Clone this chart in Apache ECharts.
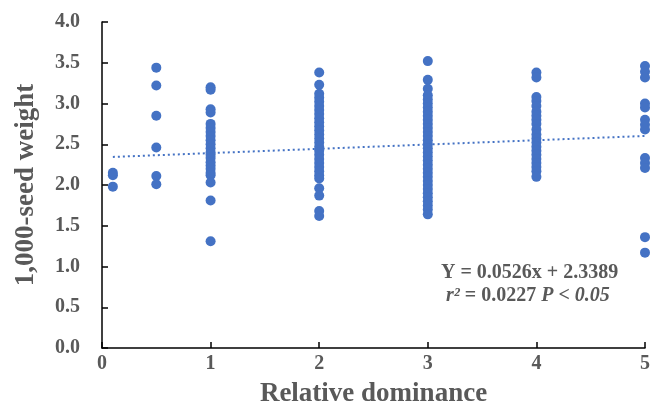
<!DOCTYPE html>
<html>
<head>
<meta charset="utf-8">
<script src="https://cdn.jsdelivr.net/npm/echarts@6/dist/echarts.min.js"></script>
<style>html,body{margin:0;padding:0;background:#fff;}#c{width:650px;height:405px;}</style>
</head>
<body>
<div id="c"></div>
<script>
// Relative dominance groups (x) and 1,000-seed weight values (y)
var xGroups = [0.1, 0.5, 1, 2, 3, 4, 5];
var y01 = [2.15, 2.12, 1.98];
var y05 = [3.44, 3.22, 2.85, 2.46, 2.11, 2.01];
var y1 = [3.2, 3.17, 2.93, 2.89, 2.75, 2.7, 2.65, 2.6, 2.55, 2.5, 2.45, 2.4, 2.37, 2.33, 2.28, 2.24, 2.2, 2.15, 2.12, 2.03, 1.81, 1.31];
var y2 = [3.38, 3.23, 3.12, 3.07, 3.02, 2.97, 2.92, 2.87, 2.82, 2.77, 2.72, 2.67, 2.62, 2.57, 2.52, 2.47, 2.42, 2.37, 2.32, 2.27, 2.22, 2.17, 2.12, 2.08, 1.96, 1.87, 1.68, 1.62];
var y3 = [3.52, 3.29, 3.18, 3.1, 3.05, 3.0, 2.95, 2.9, 2.85, 2.8, 2.75, 2.7, 2.65, 2.6, 2.55, 2.5, 2.45, 2.4, 2.35, 2.3, 2.25, 2.2, 2.15, 2.1, 2.05, 2.0, 1.95, 1.9, 1.85, 1.8, 1.75, 1.7, 1.64];
var y4 = [3.38, 3.32, 3.08, 3.03, 2.97, 2.9, 2.85, 2.8, 2.75, 2.68, 2.62, 2.57, 2.52, 2.47, 2.42, 2.37, 2.32, 2.27, 2.22, 2.17, 2.1];
var y5 = [3.46, 3.39, 3.32, 3.0, 2.95, 2.8, 2.74, 2.68, 2.33, 2.27, 2.21, 1.36, 1.17];
var yByGroup = [y01, y05, y1, y2, y3, y4, y5];
// Regression: Y = 0.0526x + 2.3389
var slope = 0.0526, intercept = 2.3389;
var trendX = [0.1, 5];

var points = [];
xGroups.forEach(function (x, i) {
  yByGroup[i].forEach(function (y) { points.push([x, y]); });
});
var trend = trendX.map(function (x) { return [x, slope * x + intercept]; });

var gray = '#595959';
var serif = '"Liberation Serif", "Times New Roman", serif';
var chart = echarts.init(document.getElementById('c'));
chart.setOption({
  animation: false,
  grid: { left: 102, right: 5, top: 22, bottom: 57, outerBoundsMode: 'none', containLabel: false },
  xAxis: {
    type: 'value', min: 0, max: 5, interval: 1,
    name: 'Relative dominance', nameLocation: 'middle', nameGap: 33,
    nameTextStyle: { fontFamily: serif, fontWeight: 'bold', fontSize: 27, color: gray },
    axisLine: { lineStyle: { color: '#000', width: 1.5 } },
    axisTick: { inside: true, length: 6, lineStyle: { color: '#000', width: 1.5 } },
    axisLabel: { margin: 6, fontFamily: serif, fontWeight: 'bold', fontSize: 20, color: gray },
    splitLine: { show: false }
  },
  yAxis: {
    type: 'value', min: 0, max: 4, interval: 0.5,
    name: '1,000-seed weight', nameLocation: 'middle', nameGap: 62,
    nameTextStyle: { fontFamily: serif, fontWeight: 'bold', fontSize: 27, color: gray },
    axisLine: { show: true, lineStyle: { color: '#000', width: 1.5 } },
    axisTick: { show: true, inside: true, length: 6, lineStyle: { color: '#000', width: 1.5 } },
    axisLabel: { margin: 22, fontFamily: serif, fontWeight: 'bold', fontSize: 20, color: gray,
      formatter: function (v) { return v.toFixed(1); } },
    splitLine: { show: false }
  },
  series: [
    { type: 'scatter', data: points, symbolSize: 10, itemStyle: { color: '#4472C4', opacity: 1 } },
    { type: 'line', data: trend, symbol: 'none', lineStyle: { color: '#4472C4', width: 2, type: [2, 3] }, z: 3 }
  ],
  graphic: [
    { type: 'text', left: 441, top: 263, style: { text: 'Y = 0.0526x + 2.3389', font: 'bold 20px ' + serif, fill: gray } },
    { type: 'text', left: 446, top: 286, style: {
      text: '{i|r²} = 0.0227 {i|P < 0.05}',
      font: 'bold 20px ' + serif, fill: gray,
      rich: { i: { fontStyle: 'italic', fontWeight: 'bold', fontSize: 20, fontFamily: serif, fill: gray, color: gray } }
    } }
  ]
});
</script>
</body>
</html>
